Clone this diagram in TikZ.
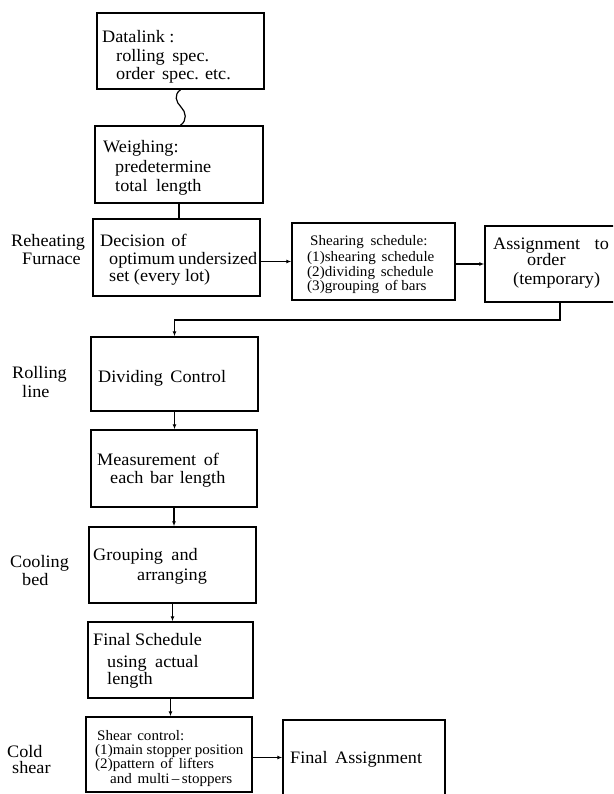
\documentclass[tikz,border=0pt]{standalone}
\usepackage{fontspec}
\setmainfont{Liberation Serif}[FakeStretch=1.04]
\usetikzlibrary{arrows.meta}
\begin{document}
\begin{tikzpicture}[x=1pt,y=-1pt,
  box/.style={draw, line width=1.5pt, rectangle, inner sep=0pt},
  txt/.style={anchor=base west, inner sep=0pt, font=\fontsize{17.5}{18}\selectfont},
  stxt/.style={anchor=base west, inner sep=0pt, font=\fontsize{14.5}{15}\selectfont},
  lbl/.style={anchor=base west, inner sep=0pt, font=\fontsize{17.5}{18}\selectfont},
  conn/.style={line width=1.2pt},
  arr/.style={line width=1.2pt, -{Latex[length=5pt,width=4pt]}}]
\useasboundingbox (0,0) rectangle (613,794);
\clip (0,0) rectangle (613,794);
% boxes
\node[box, minimum width=167pt, minimum height=76pt] (b1) at (180.5,51) {};
\node[box, minimum width=168pt, minimum height=77pt] (b2) at (179,164.5) {};
\node[box, minimum width=167pt, minimum height=77pt] (b3) at (176.5,257.5) {};
\node[box, minimum width=163pt, minimum height=77pt] (b4) at (373.5,261.5) {};
\node[box, minimum width=140pt, minimum height=76pt] (b5) at (555,264) {};
\node[box, minimum width=167pt, minimum height=74pt] (b6) at (174.5,374) {};
\node[box, minimum width=166pt, minimum height=77pt] (b7) at (174,468.5) {};
\node[box, minimum width=167pt, minimum height=76pt] (b8) at (172.5,565) {};
\node[box, minimum width=165pt, minimum height=76pt] (b9) at (170.5,660) {};
\node[box, minimum width=166pt, minimum height=75pt] (b10) at (169,754.5) {};
\node[box, minimum width=162pt, minimum height=84pt] (b11) at (364,762) {};
% texts
\node[txt] (t1a) at (102,43) {Datalink :};
\node[txt] (t1b) at (116,62) {rolling\hspace{3pt} spec.};
\node[txt] (t1c) at (116,80) {order\hspace{3pt} spec. etc.};
\node[txt] (t2a) at (103,153) {Weighing:};
\node[txt] (t2b) at (115,173) {predetermine};
\node[txt] (t2c) at (115,192) {total\hspace{4pt} length};
\node[txt] (t3a) at (100,247) {Decision\hspace{2pt} of};
\node[txt] (t3b) at (109,264) {optimum\hspace{-1pt} undersized};
\node[txt] (t3c) at (109,281) {set (every lot)};
\node[stxt] (t4a) at (310,245) {Shearing\hspace{3pt} schedule:};
\node[stxt] (t4b) at (307,261) {(1)shearing\hspace{2pt} schedule};
\node[stxt] (t4c) at (307,276) {(2)dividing\hspace{2pt} schedule};
\node[stxt] (t4d) at (307,290) {(3)grouping\hspace{2pt} of bars};
\node[txt] (t5a) at (493,249) {Assignment\hspace{10pt} to};
\node[txt] (t5b) at (527,265) {order};
\node[txt] (t5c) at (513,284) {(temporary)};
\node[txt] (t6a) at (98,382) {Dividing\hspace{3pt} Control};
\node[txt] (t7a) at (97,465) {Measurement\hspace{3pt} of};
\node[txt] (t7b) at (110,483) {each\hspace{2pt} bar\hspace{2pt} length};
\node[txt] (t8a) at (93,560) {Grouping\hspace{4pt} and};
\node[txt] (t8b) at (137,580) {arranging};
\node[txt] (t9a) at (93,645) {Final Schedule};
\node[txt] (t9b) at (107,667) {using\hspace{4pt} actual};
\node[txt] (t9c) at (107,684) {length};
\node[stxt] (t10a) at (97,740) {Shear\hspace{2pt} control:};
\node[stxt] (t10b) at (95,754) {(1)main stopper position};
\node[stxt] (t10c) at (95,768) {(2)pattern\hspace{2pt} of\hspace{2pt} lifters};
\node[stxt] (t10d) at (110,783) {and\hspace{2pt} multi\,--\,stoppers};
\node[txt] (t11a) at (290,763) {Final\hspace{3pt} Assignment};
% side labels
\node[lbl] (l1a) at (11,247) {Reheating};
\node[lbl] (l1b) at (22,264) {Furnace};
\node[lbl] (l2a) at (12,378) {Rolling};
\node[lbl] (l2b) at (22,397) {line};
\node[lbl] (l3a) at (10,567) {Cooling};
\node[lbl] (l3b) at (22,585) {bed};
\node[lbl] (l4a) at (7,757) {Cold};
\node[lbl] (l4b) at (12,773) {shear};
% connectors
\draw[conn] (b1.south) .. controls +(-7,5) and +(-5,-5) .. (181,107)
  .. controls +(5,5) and +(7,-5) .. (b1.south |- b2.north);
\draw[conn] (b2.south) -- (b2.south |- b3.north);
\draw[arr] (b3.east |- b4.west) -- (b4.west);
\draw[arr] (b4.east |- b5.west) -- (b5.west);
\coordinate (fb) at (560,320);
\draw[arr] (b5.south -| fb) -- (fb) -- (fb -| b6.north) -- (b6.north);
\draw[arr] (b6.south) -- (b6.south |- b7.north);
\draw[arr] (b7.south) -- (b7.south |- b8.north);
\draw[arr] (b8.south) -- (b8.south |- b9.north);
\draw[arr] (b9.south) -- (b9.south |- b10.north);
\draw[arr] ([yshift=-3pt]b10.east) -- ([yshift=-3pt]b10.east -| b11.west);
\end{tikzpicture}
\end{document}
